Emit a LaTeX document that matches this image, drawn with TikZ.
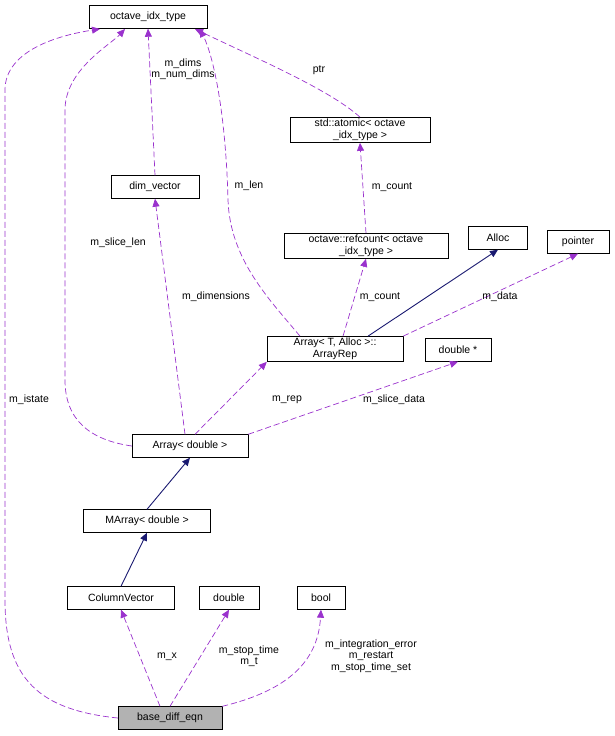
\documentclass[tikz,border=0pt]{standalone}
\usepackage{fontspec}
\setmainfont{Liberation Sans}
\usetikzlibrary{arrows.meta}
\tikzset{>={Triangle[length=8pt,width=7pt]}}
\definecolor{navy}{RGB}{25,25,112}
\definecolor{purp}{RGB}{154,50,205}
\begin{document}
\begin{tikzpicture}[x=1pt,y=-1pt,font=\fontsize{10.5}{11.5}\selectfont]
\tikzset{box/.style={draw,fill=white,inner sep=2pt,align=center,minimum height=23pt},
  mem/.style={->,draw=purp,dash pattern=on 6pt off 3pt,line width=0.7pt},
  inh/.style={->,draw=navy,line width=0.9pt},
  lbl/.style={inner sep=1pt,align=center}}
\useasboundingbox (0,0) rectangle (615,736);
    \node[box,minimum width=118pt] (idx) at (148,17) {octave\_idx\_type};
    \node[box,minimum width=140pt] (atom) at (360,130) {std::atomic< octave\\\_idx\_type >};
    \node[box,minimum width=88pt] (dimv) at (155,187) {dim\_vector};
    \node[box,minimum width=164pt] (refc) at (366,246) {octave::refcount< octave\\\_idx\_type >};
    \node[box,minimum width=59pt] (alloc) at (498,238) {Alloc};
    \node[box,minimum width=62pt] (ptr) at (578,242) {pointer};
    \node[box,minimum width=136pt] (rep) at (335,349) {Array< T, Alloc >::\\ArrayRep};
    \node[box,minimum width=66pt] (dptr) at (458,350) {double *};
    \node[box,minimum width=116pt] (arr) at (190,446) {Array< double >};
    \node[box,minimum width=127pt] (marr) at (147,521) {MArray< double >};
    \node[box,minimum width=107pt] (colv) at (121,598) {ColumnVector};
    \node[box,minimum width=60pt] (dbl) at (229,598) {double};
    \node[box,minimum width=48pt] (bool) at (321,598) {bool};
    \node[box,minimum width=104pt,fill=black!30] (base) at (170,718) {base\_diff\_eqn};

    % members
    \draw[mem] (base.west) .. controls (40,710) and (5,680) .. (5,600) -- (5,90) .. controls (5,50) and (60,35) .. (100,29);
    \draw[mem] (arr.west) .. controls (90,440) and (65,420) .. (65,380) -- (65,110) .. controls (65,70) and (110,45) .. (125,29);
    \draw[mem] (dimv.north) -- (idx.south);
    \draw[mem] ([xshift=-35]rep.north) .. controls (270,300) and (230,260) .. (228,200) .. controls (226,120) and (215,60) .. (200,29);
    \draw[mem] (atom.north) .. controls (330,90) and (260,60) .. (195,29);
    \draw[mem] (refc.north) -- (atom.south);
    \draw[mem] ([xshift=8]rep.north) -- (refc.south);
    \draw[inh] ([xshift=33]rep.north) -- (alloc.south);
    \draw[mem] (rep.north east) -- (ptr.south);
    \draw[mem] ([xshift=-5]arr.north) -- (dimv.south);
    \draw[mem] ([xshift=5]arr.north) -- (rep.south west);
    \draw[mem] (arr.north east) -- (dptr.south);
    \draw[inh] (marr.north) -- (arr.south);
    \draw[inh] (colv.north) -- (marr.south);
    \draw[mem] ([xshift=-10]base.north) -- (colv.south);
    \draw[mem] (base.north) -- (dbl.south);
    \draw[mem] (base.north east) .. controls (290,690) and (318,660) .. (bool.south);

    \node[lbl,anchor=west] (l1) at (8,400) {m\_istate};
    \node[lbl] (l2) at (118,243) {m\_slice\_len};
    \node[lbl] (l3) at (183,69) {m\_dims\\m\_num\_dims};
    \node[lbl] (l4) at (249,186) {m\_len};
    \node[lbl] (l5) at (319,70) {ptr};
    \node[lbl] (l6) at (392,187) {m\_count};
    \node[lbl] (l7) at (380,297) {m\_count};
    \node[lbl] (l8) at (500,297) {m\_data};
    \node[lbl] (l9) at (216,297) {m\_dimensions};
    \node[lbl] (l10) at (287,400) {m\_rep};
    \node[lbl] (l11) at (394,400) {m\_slice\_data};
    \node[lbl] (l12) at (167,657) {m\_x};
    \node[lbl] (l13) at (249,656) {m\_stop\_time\\m\_t};
    \node[lbl] (l14) at (371,656) {m\_integration\_error\\m\_restart\\m\_stop\_time\_set};
\end{tikzpicture}
\end{document}
